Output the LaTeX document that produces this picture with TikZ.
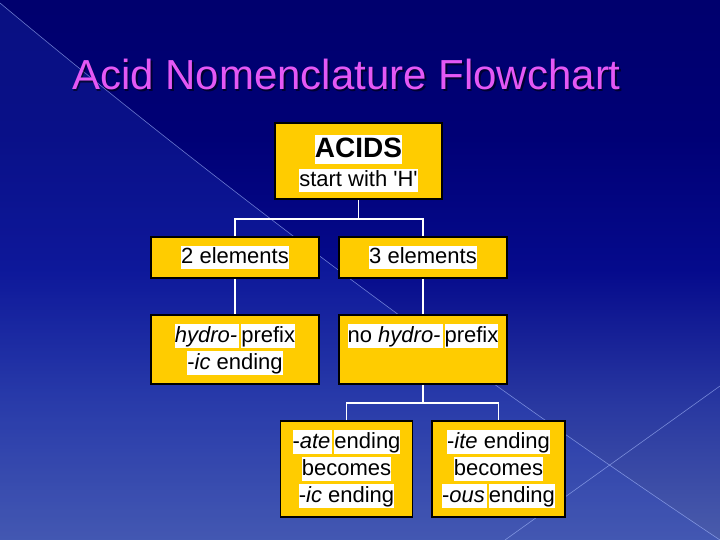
\documentclass[tikz,border=0pt]{standalone}
\usepackage{fontspec}
\setmainfont{Liberation Sans}
\definecolor{boxyellow}{RGB}{255,204,0}
\definecolor{titlemag}{RGB}{228,88,245}
\definecolor{tri}{RGB}{45,75,205}
\pgfdeclareverticalshading{bgshade}{100bp}{rgb(0bp)=(0.29,0.36,0.67); rgb(25bp)=(0.29,0.36,0.67); rgb(37.5bp)=(0.16,0.22,0.63); rgb(50bp)=(0.02,0.04,0.55); rgb(62.5bp)=(0,0,0.46); rgb(75bp)=(0,0,0.43); rgb(100bp)=(0,0,0.43)}
\newcommand\hlw[1]{{\setlength{\fboxsep}{0pt}\colorbox{white}{\rule[-0.25em]{0pt}{1.05em}#1}}}
\newcommand\sq{{\XeTeXglyph\XeTeXcharglyph"27\relax}}
\tikzset{
  box/.style={draw=black, line width=1.6pt, fill=boxyellow, align=center, inner sep=0pt, font=\fontsize{22}{27}\selectfont},
  conn/.style={draw=white, line width=1.5pt},
  deco/.style={draw={rgb,255:red,170;green,190;blue,255}, line width=0.6pt, opacity=0.6},
  titletext/.style={font=\fontsize{42}{46}\selectfont, anchor=base, inner sep=0pt}
}
\begin{document}
\begin{tikzpicture}[x=1pt,y=-1pt]
\useasboundingbox (0,0) rectangle (720,540);
% background
\shade[shading=bgshade] (0,0) rectangle (720,540);
\fill[tri, opacity=0.22] (0,3) .. controls (200,170) and (450,360) .. (720,540) -- (0,540) -- cycle;
\draw[deco] (0,3) .. controls (200,170) and (450,360) .. (720,540);
\draw[deco] (505,540) -- (720,386);
% title
\node[titletext, text=black, opacity=0.55] (titleshadow) at (348,91.5) {Acid Nomenclature Flowchart};
\node[titletext, text=titlemag] (title) at (346.5,90) {Acid Nomenclature Flowchart};
% boxes
\node[box, minimum width=167pt, minimum height=76pt] (acids) at (358.5,161)
  {\rule{0pt}{27.5pt}{\fontsize{28}{28}\selectfont\bfseries\hlw{ACIDS}}\\[2pt]\hlw{start with \sq H\sq}};
\node[box, minimum width=168pt, minimum height=41pt] (two) at (235,257.5) {\hlw{2 elements}};
\node[box, minimum width=168pt, minimum height=41pt] (three) at (423,257.5) {\hlw{3 elements}};
\node[box, minimum width=168pt, minimum height=69pt] (hydro) at (235,349.5)
  {\hlw{\textit{hydro-}\hspace{2pt}}\hspace{2pt}\hlw{prefix}\\\hlw{-\textit{ic} ending}};
\node[box, minimum width=168pt, minimum height=69pt] (nohydro) at (423,349.5)
  {\hlw{no \textit{hydro-}\hspace{2pt}}\hspace{2pt}\hlw{prefix}\\\rule[-0.25em]{0pt}{1.05em}};
\node[box, minimum width=132pt, minimum height=96pt] (ate) at (346.5,469)
  {\hlw{-\textit{ate}\hspace{2pt}}\hspace{2pt}\hlw{ending}\\\hlw{becomes}\\\hlw{-\textit{ic} ending}};
\node[box, minimum width=133pt, minimum height=96pt] (ite) at (498.5,469)
  {\hlw{-\textit{ite} ending}\\\hlw{becomes}\\\hlw{-\textit{ous}\hspace{2pt}}\hspace{2pt}\hlw{ending}};
% connectors
\path (acids.south) ++(0,19) coordinate (j1);
\path (nohydro.south) ++(0,18) coordinate (j2);
\draw[conn] (acids.south) -- (j1);
\draw[conn] (two.north) |- (j1) -| (three.north);
\draw[conn] (two.south) -- (hydro.north);
\draw[conn] (three.south) -- (nohydro.north);
\draw[conn] (nohydro.south) -- (j2);
\draw[conn] (ate.north) |- (j2) -| (ite.north);
\end{tikzpicture}
\end{document}
